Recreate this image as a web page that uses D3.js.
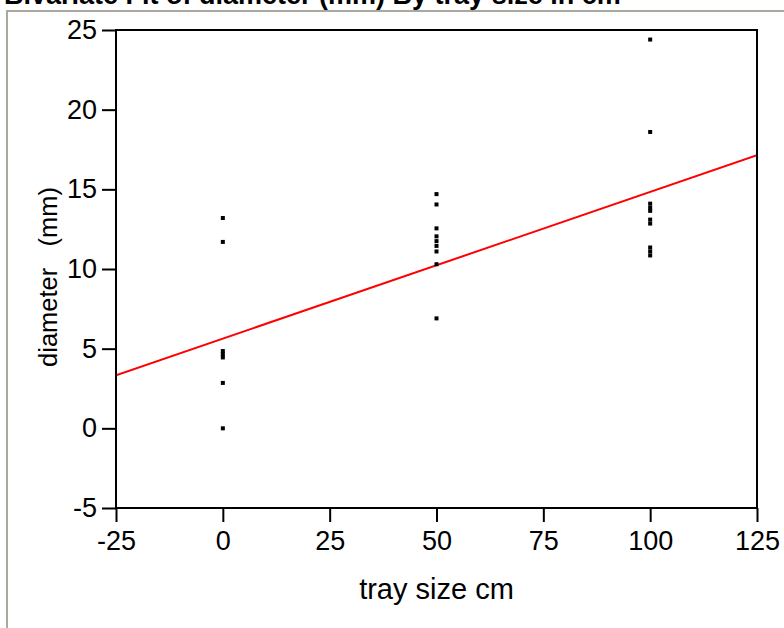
<!DOCTYPE html>
<html>
<head>
<meta charset="utf-8">
<script src="https://cdn.jsdelivr.net/npm/d3@7"></script>
<style>
  body { margin: 0; background: #fff; }
  svg { display: block; font-family: "Liberation Sans", Arial, sans-serif; }
</style>
</head>
<body>
<svg id="chart" width="784" height="628"></svg>
<script>
// tray size (cm) for each observation
const traySize = [
  0, 0, 0, 0, 0, 0, 0,
  50, 50, 50, 50, 50, 50, 50, 50, 50,
  100, 100, 100, 100, 100, 100, 100, 100, 100, 100
];
// diameter (mm)
const diameter = [
  13.2, 11.7, 4.85, 4.65, 4.45, 2.85, 0,
  14.7, 14.05, 12.55, 12.05, 11.75, 11.45, 11.1, 10.3, 6.9,
  24.4, 18.6, 14.1, 13.85, 13.65, 13.1, 12.85, 11.35, 11.1, 10.85
];
// fitted line: diameter = intercept + slope * tray size
const fitIntercept = [5.63];
const fitSlope = [0.0921];

const xTicks = [-25, 0, 25, 50, 75, 100, 125];
const yTicks = [-5, 0, 5, 10, 15, 20, 25];

const svg = d3.select('#chart');
const margin = { top: 30, right: 27, bottom: 120, left: 116 };
const width = 784 - margin.left - margin.right;
const height = 628 - margin.top - margin.bottom;

// grey window frame
svg.append('line').attr('x1', 7).attr('x2', 7).attr('y1', 10).attr('y2', 628)
  .attr('stroke', '#aaa9a0').attr('stroke-width', 2);
svg.append('line').attr('x1', 7).attr('x2', 784).attr('y1', 11).attr('y2', 11)
  .attr('stroke', '#aaa9a0').attr('stroke-width', 2);

svg.append('text')
  .attr('x', 4).attr('y', 4)
  .style('font-weight', 'bold').style('font-size', '27px')
  .text('Bivariate Fit of diameter (mm) By tray size in cm');

const g = svg.append('g').attr('transform', `translate(${margin.left},${margin.top})`);

const x = d3.scaleLinear().domain([-25, 125]).range([0, width]);
const y = d3.scaleLinear().domain([-5, 25]).range([height, 0]);

g.append('defs').append('clipPath').attr('id', 'clip')
  .append('rect').attr('width', width).attr('height', height);

// fit line
g.append('line')
  .attr('clip-path', 'url(#clip)')
  .attr('x1', x(-25)).attr('y1', y(fitIntercept[0] + fitSlope[0] * -25))
  .attr('x2', x(125)).attr('y2', y(fitIntercept[0] + fitSlope[0] * 125))
  .attr('stroke', '#ff0000').attr('stroke-width', 2);

// points
g.selectAll('.pt')
  .data(traySize.map((t, i) => ({ t, d: diameter[i] })))
  .enter()
  .append('rect')
  .attr('class', 'pt')
  .attr('x', d => x(d.t) - 2)
  .attr('y', d => y(d.d) - 2)
  .attr('width', 4)
  .attr('height', 4)
  .attr('fill', '#000');

// frame
g.append('rect').attr('width', width).attr('height', height)
  .attr('fill', 'none').attr('stroke', '#000').attr('stroke-width', 2);

const xAxis = g.append('g')
  .attr('transform', `translate(0,${height})`)
  .call(d3.axisBottom(x).tickValues(xTicks).tickSize(14).tickPadding(9).tickFormat(d => String(d)));
const yAxis = g.append('g')
  .call(d3.axisLeft(y).tickValues(yTicks).tickSize(14).tickPadding(5).tickFormat(d => String(d)));

[xAxis, yAxis].forEach(a => {
  a.attr('font-size', null).attr('font-family', null);
  a.select('.domain').remove();
  a.selectAll('line').attr('stroke', '#000').attr('stroke-width', 2);
  a.selectAll('text').style('font-size', '27px').style('fill', '#000');
});

svg.append('text')
  .attr('x', margin.left + x(50)).attr('y', 599)
  .attr('text-anchor', 'middle').style('font-size', '29px')
  .text('tray size cm');

svg.append('text')
  .attr('transform', 'translate(57,277) rotate(-90)')
  .attr('text-anchor', 'middle').style('font-size', '25.5px')
  .style('white-space', 'pre')
  .text('diameter   (mm)');
</script>
</body>
</html>
